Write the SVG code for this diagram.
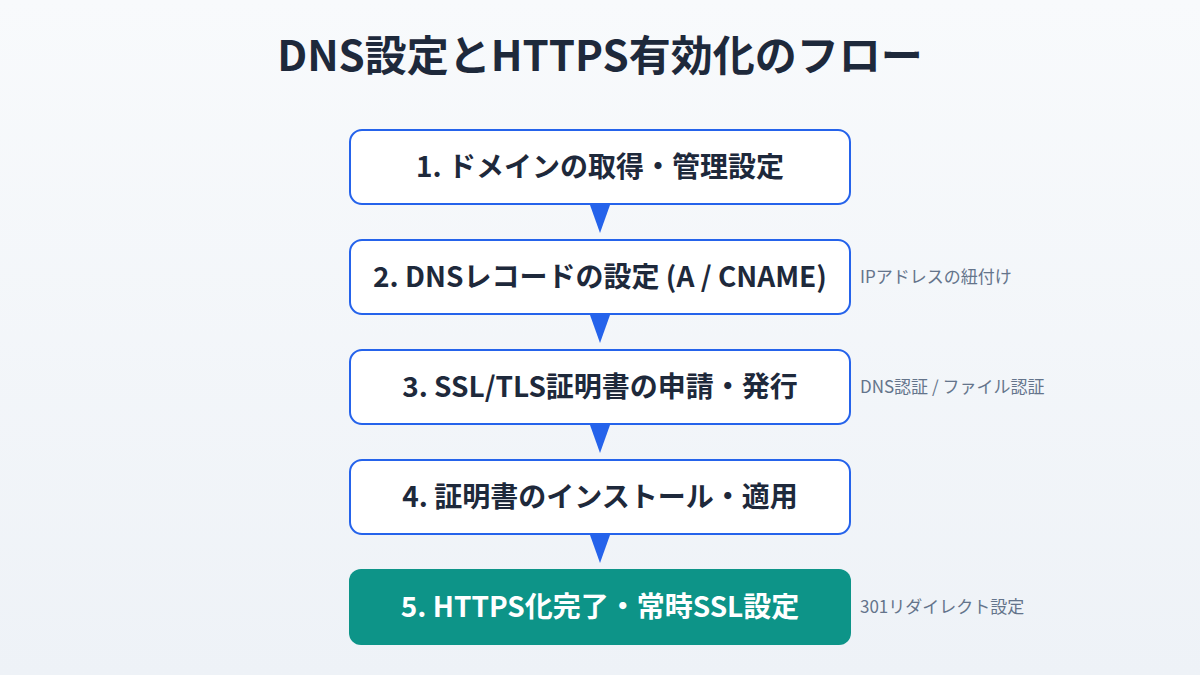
<svg xmlns="http://www.w3.org/2000/svg" width="1200" height="675" viewBox="0 0 1200 675">
<defs>
<linearGradient id="bg" x1="0" y1="0" x2="0" y2="1"><stop offset="0" stop-color="#f8fafc"/><stop offset="1" stop-color="#eef2f7"/></linearGradient>
<style>
.box{fill:#fff;stroke:#2563eb;stroke-width:2}
.lbl{font-family:"Noto Sans CJK JP","Noto Sans",sans-serif;font-weight:700;font-size:28px;fill:#1e293b;text-anchor:middle}
.note{font-family:"Noto Sans CJK JP","Noto Sans",sans-serif;font-size:17px;fill:#64748b}
.arr{fill:#2563eb}
</style>
</defs>
<rect width="1200" height="675" fill="url(#bg)"/>
<text x="600" y="71" text-anchor="middle" font-family="'Noto Sans CJK JP','Noto Sans',sans-serif" font-weight="700" font-size="42" fill="#1e293b">DNS設定とHTTPS有効化のフロー</text>
<g id="connectors">
<polygon class="arr" points="590,205 610,205 600,233"/>
<polygon class="arr" points="590,315 610,315 600,343"/>
<polygon class="arr" points="590,425 610,425 600,453"/>
<polygon class="arr" points="590,535 610,535 600,563"/>
</g>
<g id="n1"><rect class="box" x="350" y="130" width="500" height="74" rx="12"/><text class="lbl" x="600" y="177">1. ドメインの取得・管理設定</text></g>
<g id="n2"><rect class="box" x="350" y="240" width="500" height="74" rx="12"/><text class="lbl" x="600" y="287">2. DNSレコードの設定 (A / CNAME)</text><text class="note" x="860" y="283">IPアドレスの紐付け</text></g>
<g id="n3"><rect class="box" x="350" y="350" width="500" height="74" rx="12"/><text class="lbl" x="600" y="397">3. SSL/TLS証明書の申請・発行</text><text class="note" x="860" y="393">DNS認証 / ファイル認証</text></g>
<g id="n4"><rect class="box" x="350" y="460" width="500" height="74" rx="12"/><text class="lbl" x="600" y="507">4. 証明書のインストール・適用</text></g>
<g id="n5"><rect x="349" y="569" width="502" height="76" rx="12" fill="#0d9488"/><text class="lbl" x="600" y="617" style="fill:#fff">5. HTTPS化完了・常時SSL設定</text><text class="note" x="860" y="613">301リダイレクト設定</text></g>
</svg>
